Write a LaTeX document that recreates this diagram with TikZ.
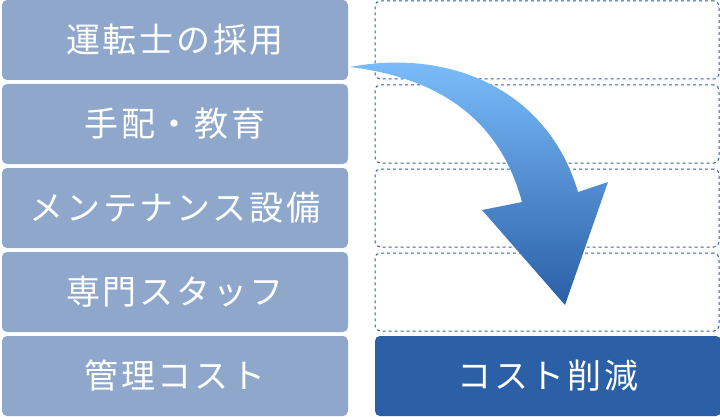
\documentclass[tikz,border=0pt]{standalone}
\usepackage{fontspec}
\setmainfont{Noto Sans CJK JP}[LetterSpace=8]
\begin{document}
\begin{tikzpicture}[x=1pt,y=-1pt,
 lbox/.style={fill=lb,rounded corners=5pt,minimum width=346pt,minimum height=80pt,inner sep=0pt,text=white,font=\fontsize{34}{34}\selectfont},
 dbox/.style={draw=db,dashed,line width=1pt,rounded corners=5pt,minimum width=344pt,minimum height=78pt,inner sep=0pt},
 sbox/.style={fill=db,rounded corners=5pt,minimum width=346pt,minimum height=80pt,inner sep=0pt,text=white,font=\fontsize{34}{34}\selectfont}]
\definecolor{lb}{HTML}{8EA7CB}
\definecolor{db}{HTML}{2B5FA6}
\useasboundingbox (0,0) rectangle (720,417);
\node[lbox] (l1) at (175,40) {運転士の採用};
\node[lbox] (l2) at (175,124) {手配・教育};
\node[lbox] (l3) at (175,208) {メンテナンス設備};
\node[lbox] (l4) at (175,292) {専門スタッフ};
\node[lbox] (l5) at (175,376) {管理コスト};
\node[dbox] (r1) at (547,40) {};
\node[dbox] (r2) at (547,124) {};
\node[dbox] (r3) at (547,208) {};
\node[dbox] (r4) at (547,292) {};
\node[sbox] (r5) at (548,376) {コスト削減};
\shade[top color=blue!35!cyan!45!white!90!blue, bottom color=db, shading angle=0]
 (350,67) .. controls (450,48) and (548,90) .. (578,192) -- (608,182) -- (565,305) -- (482,210) -- (522,202) .. controls (500,120) and (440,78) .. (350,67) -- cycle;
\end{tikzpicture}
\end{document}
